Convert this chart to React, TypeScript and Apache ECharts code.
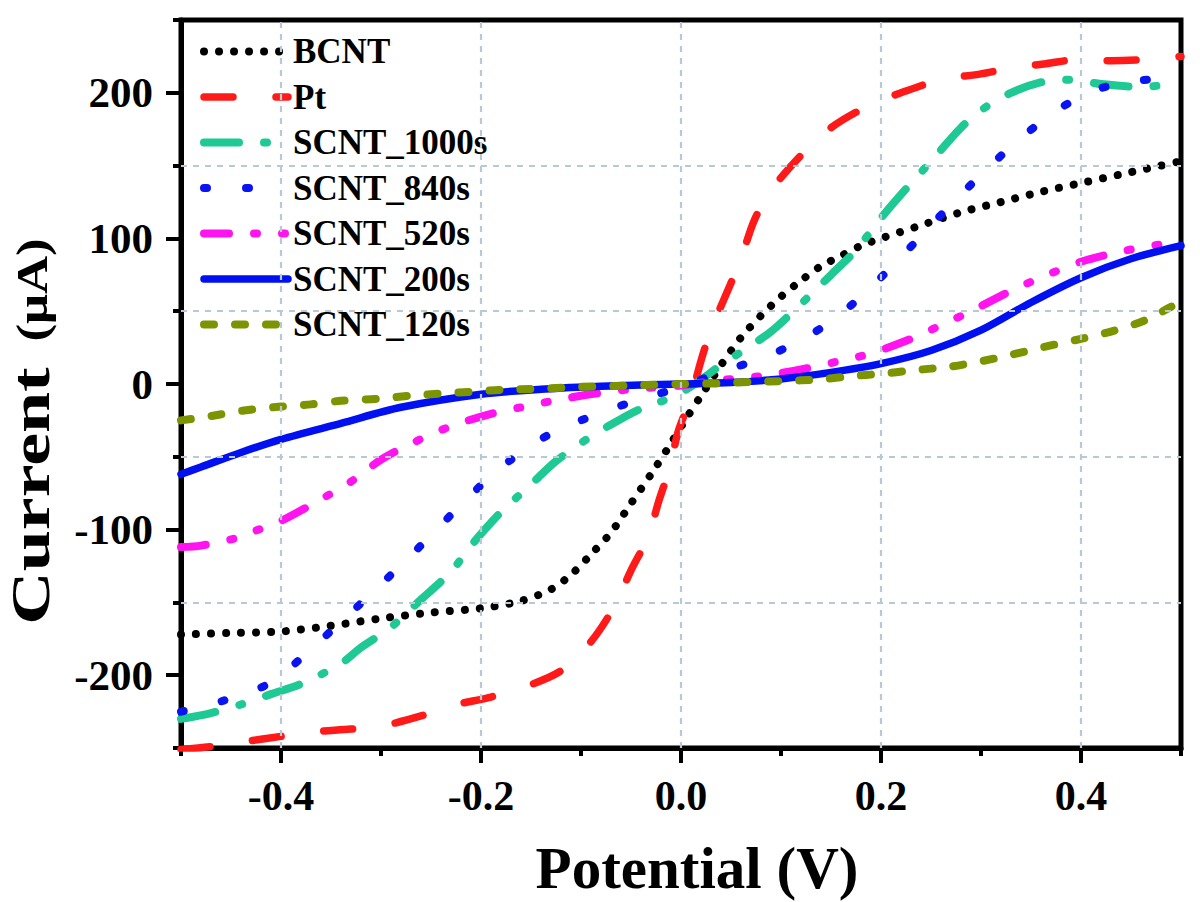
import React, { useEffect, useRef } from "react";
import * as echarts from "echarts";

// ---- data (Potential V, Current µA) ----
const SERIES_NAMES = ["BCNT", "Pt", "SCNT_1000s", "SCNT_840s", "SCNT_520s", "SCNT_200s", "SCNT_120s"];

const BCNT: [number, number][] = [
  [-0.5, -172], [-0.45, -171], [-0.4, -170], [-0.35, -166], [-0.3, -161], [-0.25, -157], [-0.2, -154],
  [-0.16, -149], [-0.13, -141], [-0.11, -131], [-0.09, -117], [-0.07, -102], [-0.05, -82], [-0.03, -62],
  [-0.013, -44], [0.004, -25], [0.022, -6], [0.04, 13], [0.06, 32], [0.08, 47], [0.1, 60], [0.12, 71],
  [0.14, 81], [0.16, 88], [0.18, 95], [0.2, 100], [0.24, 109], [0.28, 118], [0.32, 125], [0.36, 132],
  [0.4, 138], [0.44, 144], [0.48, 150], [0.5, 153],
];

const PT: [number, number][] = [
  [-0.5, -251], [-0.47, -249], [-0.44, -246], [-0.4, -242], [-0.37, -239], [-0.33, -237], [-0.3, -235],
  [-0.26, -228], [-0.23, -221], [-0.19, -215], [-0.16, -209], [-0.12, -197], [-0.09, -177], [-0.066, -152],
  [-0.05, -128], [-0.033, -105], [-0.022, -80], [-0.011, -57], [-0.003, -33], [0.01, -9], [0.02, 16],
  [0.03, 37], [0.046, 63], [0.06, 86], [0.073, 112], [0.09, 133], [0.12, 157], [0.15, 176], [0.19, 192],
  [0.22, 200], [0.26, 209], [0.3, 213], [0.33, 217], [0.365, 220], [0.4, 223], [0.43, 222], [0.47, 223],
  [0.5, 225],
];

const SCNT_1000: [number, number][] = [
  [-0.5, -230], [-0.47, -226], [-0.43, -218], [-0.41, -213], [-0.38, -206], [-0.34, -192], [-0.32, -181],
  [-0.29, -167], [-0.26, -148], [-0.23, -129], [-0.21, -111], [-0.18, -88], [-0.15, -69], [-0.125, -53],
  [-0.09, -36], [-0.06, -24], [-0.04, -17], [-0.02, -12], [0.0, -6], [0.02, 3], [0.04, 13], [0.06, 22],
  [0.09, 36], [0.12, 55], [0.15, 75], [0.175, 92], [0.2, 114], [0.225, 134], [0.25, 153], [0.28, 176],
  [0.3, 188], [0.33, 200], [0.365, 208], [0.39, 209], [0.42, 206], [0.46, 204], [0.5, 207],
];

const SCNT_840: [number, number][] = [
  [-0.5, -225], [-0.46, -218], [-0.41, -205], [-0.37, -182], [-0.33, -157], [-0.29, -131], [-0.25, -104],
  [-0.21, -76], [-0.17, -52], [-0.13, -34], [-0.085, -21], [-0.043, -11], [0.0, -2], [0.043, 9],
  [0.086, 19], [0.13, 34], [0.17, 54], [0.21, 80], [0.25, 109], [0.29, 137], [0.33, 163], [0.37, 185],
  [0.41, 201], [0.455, 208], [0.5, 211],
];

const SCNT_520: [number, number][] = [
  [-0.5, -112], [-0.48, -111], [-0.44, -105], [-0.43, -102], [-0.4, -94], [-0.37, -83], [-0.33, -67],
  [-0.3, -52], [-0.27, -41], [-0.23, -29], [-0.19, -20.5], [-0.16, -16], [-0.12, -10.5], [-0.08, -6],
  [-0.05, -3.6], [-0.02, -2], [0.0, -1], [0.04, 2.7], [0.08, 5.4], [0.12, 10], [0.16, 16], [0.19, 21],
  [0.23, 31], [0.265, 42], [0.29, 50], [0.33, 64], [0.37, 76], [0.4, 84], [0.44, 91], [0.48, 96], [0.5, 98],
];

const SCNT_200: [number, number][] = [
  [-0.5, -62], [-0.48, -57], [-0.44, -47], [-0.4, -38], [-0.34, -27], [-0.28, -16], [-0.2, -7],
  [-0.14, -3.6], [-0.08, -1.5], [0.0, 0], [0.05, 1], [0.1, 3.5], [0.15, 8], [0.2, 14], [0.25, 23],
  [0.3, 37], [0.35, 56], [0.4, 73], [0.45, 86], [0.5, 95],
];

const SCNT_120: [number, number][] = [
  [-0.5, -25], [-0.47, -22], [-0.44, -18.5], [-0.4, -15.5], [-0.37, -14], [-0.34, -11.5], [-0.3, -10],
  [-0.27, -8], [-0.24, -6.6], [-0.21, -5.4], [-0.18, -4], [-0.14, -3.2], [-0.1, -2], [-0.05, -1], [0.0, 0],
  [0.04, 0.5], [0.07, 1.4], [0.1, 2], [0.14, 3.2], [0.17, 5.4], [0.2, 7], [0.23, 9.3], [0.27, 12],
  [0.3, 15.6], [0.33, 20], [0.36, 25], [0.4, 31], [0.43, 36], [0.465, 44], [0.49, 53], [0.5, 56],
];

const X_MAJOR = [-0.4, -0.2, 0, 0.2, 0.4];
const Y_MAJOR = [-200, -100, 0, 100, 200];
const X_GRID = [-0.4, -0.2, 0, 0.2, 0.4];
const Y_GRID = [-150, -50, 50, 150];

const FONT = "'Liberation Serif', 'Times New Roman', serif";

export default function App() {
  const ref = useRef<HTMLDivElement>(null);

  useEffect(() => {
    if (!ref.current) return;
    const chart = echarts.init(ref.current, undefined, { renderer: "svg" });

    const mk = (name: string, data: [number, number][], color: string, width: number, type: any) => ({
      name,
      type: "line",
      data,
      xAxisIndex: 0,
      yAxisIndex: 0,
      symbol: "none",
      smooth: 0.3,
      z: 3,
      lineStyle: { color, width, type, cap: "round", join: "round" },
      itemStyle: { color },
    });

    const series: any[] = [
      {
        name: "grid",
        type: "line",
        data: [],
        z: 1,
        silent: true,
        markLine: {
          silent: true,
          symbol: ["none", "none"],
          label: { show: false },
          lineStyle: { color: "#b9c9d4", width: 2.2, type: [6, 6] },
          data: [
            ...X_GRID.map((v) => ({ xAxis: v })),
            ...Y_GRID.map((v) => ({ yAxis: v })),
          ],
        },
      },
      mk("BCNT", BCNT, "#000000", 8, [0.01, 15]),
      mk("Pt", PT, "#ff1a1a", 7.5, [29, 43]),
      mk("SCNT_1000s", SCNT_1000, "#1ec994", 8, [35, 25, 3, 25]),
      mk("SCNT_840s", SCNT_840, "#0a14f0", 8, [3, 39]),
      mk("SCNT_520s", SCNT_520, "#ff14f0", 8, [25, 25, 3, 25, 3, 25]),
      mk("SCNT_200s", SCNT_200, "#0010f0", 7.5, "solid"),
      mk("SCNT_120s", SCNT_120, "#7b9400", 8, [10, 21]),
    ];

    const option: any = {
      animation: false,
      backgroundColor: "#ffffff",
      grid: {
        left: 181,
        right: 19,
        top: 20,
        bottom: 144,
        show: true,
        borderColor: "#000",
        borderWidth: 5,
        backgroundColor: "transparent",
      },
      legend: {
        data: SERIES_NAMES,
        orient: "vertical",
        left: 195,
        top: 29,
        itemWidth: 84,
        itemHeight: 20,
        itemGap: 10.5,
        selectedMode: false,
        itemStyle: { opacity: 0 },
        lineStyle: { width: "inherit" },
        textStyle: { fontFamily: FONT, fontWeight: "bold", fontSize: 35, color: "#000" },
      },
      xAxis: [
        {
          type: "value",
          min: -0.5,
          max: 0.5,
          interval: 0.1,
          axisLine: { show: true, onZero: false, lineStyle: { color: "#000", width: 5 } },
          axisTick: { show: true, length: 8, lineStyle: { color: "#000", width: 4 } },
          axisLabel: { show: false },
          splitLine: { show: false },
        },
        {
          type: "value",
          position: "bottom",
          min: -0.5,
          max: 0.5,
          axisLine: { show: false, onZero: false },
          axisTick: { show: true, length: 15, customValues: X_MAJOR, lineStyle: { color: "#000", width: 4 } },
          axisLabel: {
            show: true,
            customValues: X_MAJOR,
            margin: 27,
            formatter: (v: number) => (Math.abs(v) < 1e-9 ? "0.0" : v.toFixed(1)),
            fontFamily: FONT,
            fontWeight: "bold",
            fontSize: 42,
            color: "#000",
          },
          splitLine: { show: false },
          name: "Potential (V)",
          nameLocation: "middle",
          nameGap: 90,
          nameTextStyle: {
            fontFamily: FONT,
            fontWeight: "bold",
            fontSize: 59,
            color: "#000",
            padding: [0, 0, 0, 32],
          },
        },
      ],
      yAxis: [
        {
          type: "value",
          min: -250,
          max: 250,
          interval: 50,
          axisLine: { show: true, onZero: false, lineStyle: { color: "#000", width: 5 } },
          axisTick: { show: true, length: 8, lineStyle: { color: "#000", width: 4 } },
          axisLabel: { show: false },
          splitLine: { show: false },
        },
        {
          type: "value",
          position: "left",
          min: -250,
          max: 250,
          axisLine: { show: false, onZero: false },
          axisTick: { show: true, length: 15, customValues: Y_MAJOR, lineStyle: { color: "#000", width: 4 } },
          axisLabel: {
            show: true,
            customValues: Y_MAJOR,
            margin: 28,
            fontFamily: FONT,
            fontWeight: "bold",
            fontSize: 43,
            color: "#000",
          },
          splitLine: { show: false },
        },
      ],
      graphic: [
        {
          type: "text",
          x: 31,
          y: 496,
          rotation: Math.PI / 2,
          scaleX: 1.37,
          style: {
            text: "Current",
            fontFamily: FONT,
            fontWeight: "bold",
            fontSize: 54,
            fill: "#000",
            align: "center",
            verticalAlign: "middle",
          },
        },
        {
          type: "text",
          x: 33,
          y: 290,
          rotation: Math.PI / 2,
          scaleX: 1.2,
          style: {
            text: "(μA)",
            fontFamily: FONT,
            fontWeight: "bold",
            fontSize: 44,
            fill: "#000",
            align: "center",
            verticalAlign: "middle",
          },
        },
      ],
      series,
    };

    chart.setOption(option);
    return () => chart.dispose();
  }, []);

  return (
    <div
      ref={ref}
      style={{ position: "absolute", left: 0, top: 0, width: 1200, height: 902, background: "#fff" }}
    />
  );
}
